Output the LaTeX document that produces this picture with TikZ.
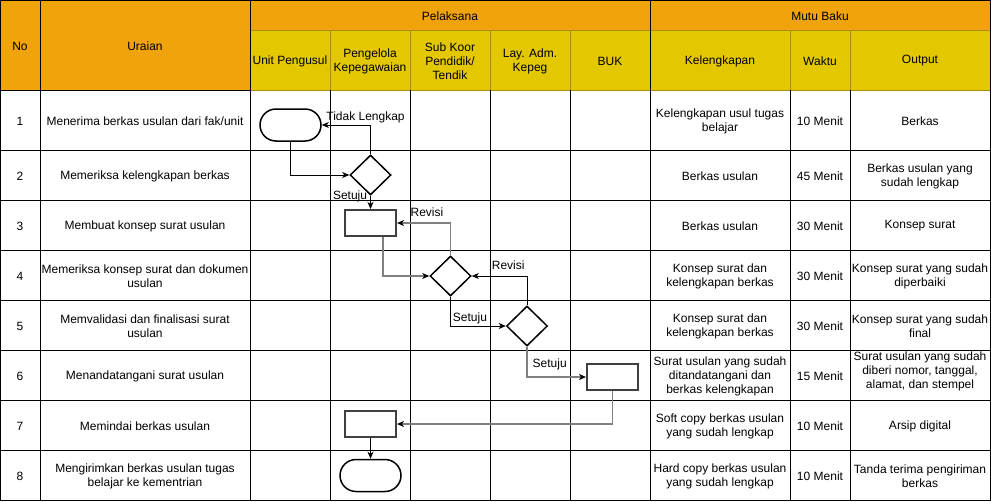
\documentclass[tikz,border=0pt]{standalone}
\usepackage{fontspec}
\setmainfont{Liberation Sans}
\usetikzlibrary{positioning, calc, shapes.geometric, shapes.misc, arrows.meta}

\definecolor{hdrorange}{HTML}{F0A30A}
\definecolor{hdryellow}{HTML}{E3C800}
\definecolor{hdrline}{HTML}{A89000}
\definecolor{flowgray}{HTML}{808080}

\begin{document}
\begin{tikzpicture}[x=1pt, y=-1pt, font=\fontsize{12}{14}\selectfont,
  cell/.style={align=center, inner sep=1pt, yshift=-1pt},
  term/.style={rounded rectangle, draw, line width=1.5pt, minimum width=61pt, minimum height=32pt, inner sep=0pt},
  decide/.style={diamond, draw, line width=1.5pt, minimum width=41pt, minimum height=40pt, inner sep=0pt},
  proc/.style={rectangle, draw=black!75, line width=2pt, minimum width=51pt, minimum height=26pt, inner sep=0pt},
  flow/.style={line width=0.9pt, -{Stealth[length=7pt, width=6pt, inset=2pt]}},
  flowg/.style={line width=1.4pt, draw=flowgray, -{Stealth[length=7pt, width=6pt, inset=2pt, black]}},
  lbl/.style={inner sep=2pt}]
\useasboundingbox (0,0) rectangle (991,501);

% header fills
\fill[hdrorange] (0,0) rectangle (250,90);
\fill[hdrorange] (250,0) rectangle (991,30);
\fill[hdryellow] (250,30) rectangle (991,90);

% grid
\draw[hdrline, line width=1pt] (250,30) -- (990,30) (250,90) -- (990,90);
\draw[hdrline, line width=1pt] (330,30) -- (330,90) (410,30) -- (410,90) (490,30) -- (490,90)
  (570,30) -- (570,90) (790,30) -- (790,90) (850,30) -- (850,90);
\draw[line width=1pt] (0,90) -- (250,90);
\draw[line width=1pt] (40,0) -- (40,500) (250,0) -- (250,500) (650,0) -- (650,500);
\draw[line width=1pt] (330,90) -- (330,500) (410,90) -- (410,500) (490,90) -- (490,500)
  (570,90) -- (570,500) (790,90) -- (790,500) (850,90) -- (850,500);
\draw[line width=1pt] (0,150) -- (990,150) (0,200) -- (990,200) (0,250) -- (990,250)
  (0,300) -- (990,300) (0,350) -- (990,350) (0,400) -- (990,400) (0,450) -- (990,450);
\draw[line width=1pt] (0.5,0.5) rectangle (990.5,500);

% header texts
\node[cell] (hno) at (20,45) {No};
\node[cell] (huraian) at (145,45) {Uraian};
\node[cell] (hpel) at (450,15) {Pelaksana};
\node[cell] (hmutu) at (820,15) {Mutu Baku};
\node[cell] (hunit) at (290,60) {Unit Pengusul};
\node[cell] (hpk) at (370,60) {Pengelola\\Kepegawaian};
\node[cell] (hsub) at (450,60) {Sub Koor\\Pendidik/\\Tendik};
\node[cell] (hlay) at (530,60) {Lay. Adm.\\Kepeg};
\node[cell] (hbuk) at (610,60) {BUK};
\node[cell] (hkel) at (720,60) {Kelengkapan};
\node[cell] (hwak) at (820,60) {Waktu};
\node[cell] (hout) at (920,60) {Output};

% rows
\node[cell] (n1) at (20,120) {1};
\node[cell] (u1) at (145,120) {Menerima berkas usulan dari fak/unit};
\node[cell] (k1) at (720,120) {Kelengkapan usul tugas\\belajar};
\node[cell] (w1) at (820,120) {10 Menit};
\node[cell] (o1) at (920,120) {Berkas};

\node[cell] (n2) at (20,175) {2};
\node[cell] (u2) at (145,175) {Memeriksa kelengkapan berkas};
\node[cell] (k2) at (720,175) {Berkas usulan};
\node[cell] (w2) at (820,175) {45 Menit};
\node[cell] (o2) at (920,175) {Berkas usulan yang\\sudah lengkap};

\node[cell] (n3) at (20,225) {3};
\node[cell] (u3) at (145,225) {Membuat konsep surat usulan};
\node[cell] (k3) at (720,225) {Berkas usulan};
\node[cell] (w3) at (820,225) {30 Menit};
\node[cell] (o3) at (920,225) {Konsep surat};

\node[cell] (n4) at (20,275) {4};
\node[cell] (u4) at (145,275) {Memeriksa konsep surat dan dokumen\\usulan};
\node[cell] (k4) at (720,275) {Konsep surat dan\\kelengkapan berkas};
\node[cell] (w4) at (820,275) {30 Menit};
\node[cell] (o4) at (920,275) {Konsep surat yang sudah\\diperbaiki};

\node[cell] (n5) at (20,325) {5};
\node[cell] (u5) at (145,325) {Memvalidasi dan finalisasi surat\\usulan};
\node[cell] (k5) at (720,325) {Konsep surat dan\\kelengkapan berkas};
\node[cell] (w5) at (820,325) {30 Menit};
\node[cell] (o5) at (920,325) {Konsep surat yang sudah\\final};

\node[cell] (n6) at (20,375) {6};
\node[cell] (u6) at (145,375) {Menandatangani surat usulan};
\node[cell] (k6) at (720,375) {Surat usulan yang sudah\\ditandatangani dan\\berkas kelengkapan};
\node[cell] (w6) at (820,375) {15 Menit};
\node[cell] (o6) at (920,370) {Surat usulan yang sudah\\diberi nomor, tanggal,\\alamat, dan stempel};

\node[cell] (n7) at (20,425) {7};
\node[cell] (u7) at (145,425) {Memindai berkas usulan};
\node[cell] (k7) at (720,425) {Soft copy berkas usulan\\yang sudah lengkap};
\node[cell] (w7) at (820,425) {10 Menit};
\node[cell] (o7) at (920,425) {Arsip digital};

\node[cell] (n8) at (20,475) {8};
\node[cell] (u8) at (145,475) {Mengirimkan berkas usulan tugas\\belajar ke kementrian};
\node[cell] (k8) at (720,475) {Hard copy berkas usulan\\yang sudah lengkap};
\node[cell] (w8) at (820,475) {10 Menit};
\node[cell] (o8) at (920,475) {Tanda terima pengiriman\\berkas};

% flow shapes
\node[term] (t1) at (290.5,125) {};
\node[decide] (d2) at (370.5,175) {};
\node[proc] (b3) at (370.5,223) {};
\node[decide] (d4) at (450.5,276) {};
\node[decide] (d5) at (527,326) {};
\node[proc] (b6) at (612.5,377) {};
\node[proc] (b7) at (370.5,424) {};
\node[term] (t8) at (370.5,475.5) {};

% connectors
\draw[flow] (t1.south) |- (d2.west);
\draw[flow] (d2.north) |- (t1.east) node[lbl, pos=0.5, anchor=south, xshift=-5pt] {Tidak Lengkap};
\draw[flow] (d2.south) -- (b3.north) node[lbl, pos=0, anchor=east, xshift=-1pt, yshift=-1pt] {Setuju};
\draw[flowg] (d4.north) |- (b3.east) node[lbl, pos=0.72, anchor=south, yshift=4pt] {Revisi};
\draw[flowg] ([xshift=12.5pt]b3.south) |- (d4.west);
\draw[flow] (d5.north) |- (d4.east) node[lbl, pos=0.5, anchor=south east, yshift=4pt] {Revisi};
\draw[flow] (d4.south) |- (d5.west) node[lbl, pos=0.5, anchor=south west] {Setuju};
\draw[flowg] (d5.south) |- (b6.west) node[lbl, pos=0.5, anchor=south west, xshift=3pt, yshift=4pt] {Setuju};
\draw[flowg] (b6.south) |- (b7.east);
\draw[flow] (b7.south) -- (t8.north);
\end{tikzpicture}
\end{document}
